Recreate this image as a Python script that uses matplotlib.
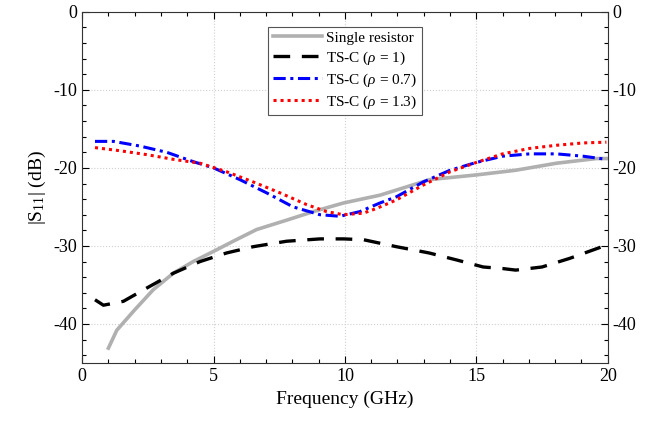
import numpy as np
import matplotlib
matplotlib.use('Agg')
import matplotlib.pyplot as plt
from matplotlib.ticker import MultipleLocator

plt.rcParams['font.family'] = ['Liberation Serif', 'DejaVu Serif']
plt.rcParams['mathtext.fontset'] = 'custom'
plt.rcParams['mathtext.rm'] = 'Liberation Serif'
plt.rcParams['mathtext.it'] = 'Liberation Serif:italic'
plt.rcParams['axes.unicode_minus'] = False

# single resistor
f_single = [1.0, 1.32, 2.0, 2.71, 3.47, 4.23, 5.0, 5.75, 6.64, 7.78, 8.8, 9.94,
            11.33, 13.23, 15.0, 16.5, 18.05, 19.57, 20.0]
s_single = [-43.1, -40.8, -38.2, -35.6, -33.5, -32.0, -30.7, -29.4, -27.9, -26.7,
            -25.6, -24.5, -23.5, -21.5, -20.9, -20.3, -19.4, -18.8, -18.8]

# TS-C rho = 1
f_rho1 = [0.49, 0.81, 1.57, 2.46, 3.47, 4.49, 5.5, 6.51, 7.78, 9.05, 9.94, 10.7,
          11.96, 13.2, 14.25, 15.26, 16.0, 16.5, 17.5, 18.55, 19.95]
s_rho1 = [-36.9, -37.6, -37.1, -35.4, -33.5, -32.0, -30.9, -30.1, -29.4, -29.1,
          -29.1, -29.2, -30.1, -30.9, -31.8, -32.7, -32.9, -33.1, -32.7, -31.6, -29.9]

# TS-C rho = 0.7
f_rho07 = [0.49, 1.19, 2.2, 3.22, 4.23, 5.0, 6.0, 7.02, 8.03, 9.05, 9.81, 10.57,
           11.33, 11.96, 12.98, 14.0, 15.0, 16.0, 17.03, 18.05, 19.06, 19.95]
s_rho07 = [-16.6, -16.6, -17.2, -18.0, -19.2, -20.0, -21.5, -23.2, -25.0, -26.0,
           -26.2, -25.6, -24.5, -23.7, -21.8, -20.3, -19.3, -18.5, -18.2, -18.2,
           -18.5, -18.9]

# TS-C rho = 1.3
f_rho13 = [0.49, 1.44, 2.46, 3.47, 4.49, 5.5, 6.51, 7.53, 8.54, 9.3, 9.94, 10.7,
           11.2, 11.96, 12.98, 14.0, 15.0, 16.0, 17.03, 18.05, 19.06, 19.95]
s_rho13 = [-17.4, -17.8, -18.3, -18.9, -19.4, -20.5, -21.8, -23.2, -24.7, -25.6,
           -26.0, -25.8, -25.2, -24.1, -22.2, -20.5, -19.3, -18.2, -17.5, -17.1,
           -16.8, -16.7]

fig = plt.figure(figsize=(6.57, 4.24), dpi=100)
ax = fig.add_axes([0.125, 0.144, 0.8, 0.828])

ax.plot(f_single, s_single, color='#b0b0b0', lw=2.6, label='Single resistor')
ax.plot(f_rho1, s_rho1, color='black', lw=2.4, dashes=(5, 3.5), label=r'TS-C ($\rho$ = 1)')
ax.plot(f_rho07, s_rho07, color='blue', lw=2.2, dashes=(4, 1.5, 1, 1.5), label=r'TS-C ($\rho$ = 0.7)')
ax.plot(f_rho13, s_rho13, color='red', lw=2.2, dashes=(1, 1.3), label=r'TS-C ($\rho$ = 1.3)')

ax.set_xlim(0, 20)
ax.set_ylim(-45, 0)
ax.xaxis.set_major_locator(MultipleLocator(5))
ax.xaxis.set_minor_locator(MultipleLocator(1))
ax.yaxis.set_major_locator(MultipleLocator(10))
ax.yaxis.set_minor_locator(MultipleLocator(2))
ax.tick_params(which='both', direction='in', top=True, right=True,
               labelright=True, labelsize=13, width=0.8)
ax.tick_params(which='major', length=5)
ax.tick_params(which='minor', length=3)
ax.grid(True, which='major', linestyle=':', color='#d0d0d0', lw=0.8)
for s in ax.spines.values():
    s.set_color('#333333')

ax.set_xlabel('Frequency (GHz)', fontsize=14)
ax.set_ylabel(r'|S$_{11}$| (dB)', fontsize=14)

leg = ax.legend(loc='upper center', bbox_to_anchor=(0.5, 0.98), fontsize=11,
                fancybox=False, framealpha=1, edgecolor='#555555',
                handlelength=3.2, borderpad=0.3, labelspacing=0.3, handletextpad=0.3)
leg.get_frame().set_linewidth(0.8)

fig.savefig('out.png', dpi=100)
